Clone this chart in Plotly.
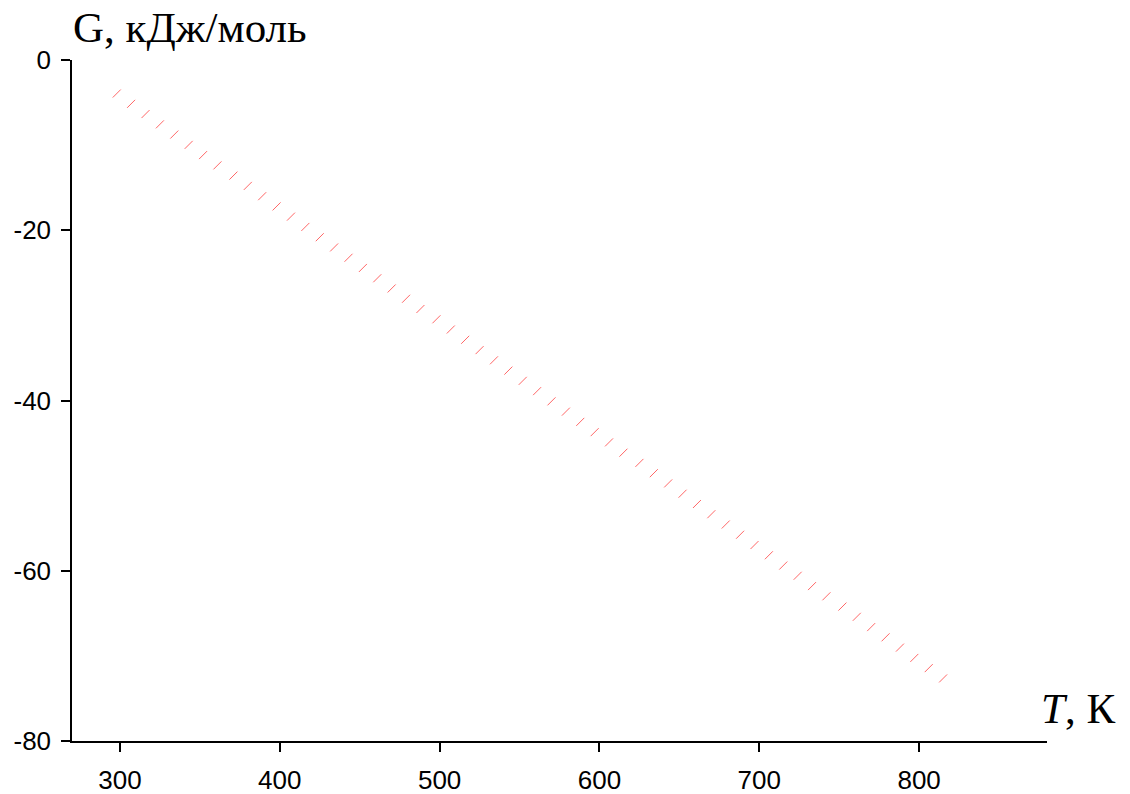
import plotly.graph_objects as go

# Temperature, K
T = [298, 307, 316, 325, 334, 343, 352, 361, 371, 380,
     389, 398, 407, 416, 425, 434, 443, 452, 461, 470,
     479, 488, 498, 507, 516, 525, 534, 543, 552, 561,
     570, 579, 588, 597, 606, 615, 625, 634, 643, 652,
     661, 670, 679, 688, 697, 706, 715, 724, 733, 742,
     752, 761, 770, 779, 788, 797, 806, 815]

# Gibbs energy, kJ/mol
G = [-3.94, -5.15, -6.35, -7.56, -8.76, -9.97, -11.17, -12.38, -13.58, -14.79,
     -16.00, -17.20, -18.40, -19.61, -20.82, -22.02, -23.23, -24.43, -25.64, -26.84,
     -28.05, -29.25, -30.46, -31.66, -32.87, -34.08, -35.28, -36.49, -37.69, -38.90,
     -40.10, -41.31, -42.51, -43.72, -44.92, -46.13, -47.33, -48.54, -49.74, -50.95,
     -52.16, -53.36, -54.57, -55.77, -56.98, -58.18, -59.39, -60.59, -61.80, -63.00,
     -64.21, -65.41, -66.62, -67.82, -69.03, -70.24, -71.44, -72.65]

x_ticks = [300, 400, 500, 600, 700, 800]
x_ticktext = ["300", "400", "500", "600", "700", "800"]
y_ticks = [0, -20, -40, -60, -80]
y_ticktext = ["0", "-20", "-40", "-60", "-80"]
y_title = "G, кДж/моль"
x_title = "<i>T</i>, К"

fig = go.Figure()
fig.add_trace(go.Scatter(
    x=T, y=G, mode="markers",
    marker=dict(symbol="line-ne", size=8,
                line=dict(color="rgba(255,0,0,0.6)", width=1)),
    showlegend=False, hoverinfo="x+y",
))

axis_common = dict(
    showgrid=False, zeroline=False, showline=True, linecolor="black", linewidth=1.5,
    ticks="outside", ticklen=9, tickwidth=1.5, tickcolor="black", automargin=False,
    tickfont=dict(family="Liberation Sans, Arial", size=26, color="black"),
)

fig.update_layout(
    width=1130, height=794,
    margin=dict(l=72, r=83, t=60, b=53),
    paper_bgcolor="white", plot_bgcolor="white",
    xaxis=dict(range=[270, 880], tickvals=x_ticks, ticktext=x_ticktext,
               ticklabelstandoff=6, **axis_common),
    yaxis=dict(range=[-80, 0], tickvals=y_ticks, ticktext=y_ticktext,
               ticklabelstandoff=5, **axis_common),
    annotations=[
        dict(text=y_title, xref="paper", yref="paper", x=-0.001, y=1.011,
             xanchor="left", yanchor="bottom", showarrow=False,
             font=dict(family="Liberation Serif, Times New Roman", size=43, color="black")),
        dict(text=x_title, xref="paper", yref="paper", x=0.992, y=0.011,
             xanchor="left", yanchor="bottom", showarrow=False,
             font=dict(family="Liberation Serif, Times New Roman", size=43, color="black")),
    ],
)

fig.write_html("out.html")
